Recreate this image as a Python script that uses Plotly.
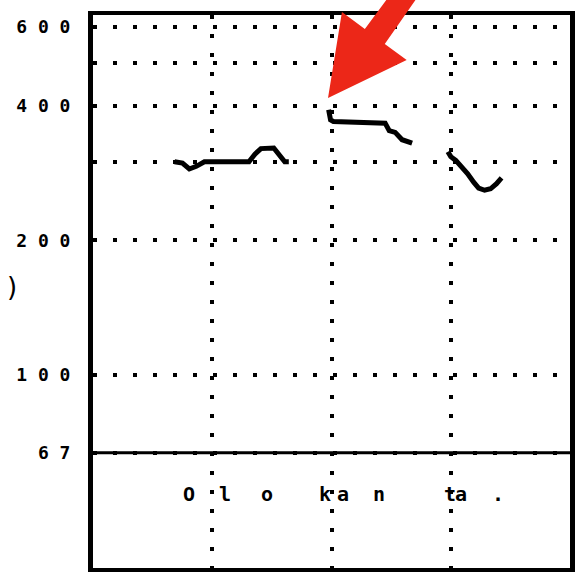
import plotly.graph_objects as go

# ---- data (time in ms, F0 in Hz) ----
seg1_t = [342, 375, 404, 433, 467, 560, 654, 679, 704, 758, 779, 804, 821]
seg1_f = [300, 298, 289, 293, 300, 300, 300, 312, 321, 322, 312, 300, 300]
seg2_t = [988, 996, 1008, 1100, 1196, 1225, 1242, 1267, 1296, 1321, 1338]
seg2_f = [392, 372, 369, 368, 368, 366, 352, 349, 336, 332, 330]
seg3_t = [1488, 1500, 1521, 1546, 1571, 1596, 1617, 1642, 1667, 1692, 1713]
seg3_f = [316, 308, 302, 293, 282, 270, 262, 259, 261, 268, 276]

y_tickvals = [67, 100, 200, 300, 400, 500, 600]
y_ticktext = ["6 7", "1 0 0", "2 0 0", "", "4 0 0", "", "6 0 0"]
x_gridvals = [500, 1000, 1500]

label_chars = ["O", "l", "o", "k", "a", "n", "t", "a", "."]
label_t = [404, 554, 729, 971, 1050, 1200, 1496, 1542, 1696]

baseline_f = 67
x_range = [0, 2000]
y_range = [1.5682, 2.8054]

W, H = 580, 573
ML, MR, MT, MB = 93, 8, 15, 5
PW, PH = W - ML - MR, H - MT - MB


def px2paper(px, py):
    return ((px - ML) / PW, (H - MB - py) / PH)


fig = go.Figure()
for t, f in [(seg1_t, seg1_f), (seg2_t, seg2_f), (seg3_t, seg3_f)]:
    fig.add_trace(go.Scatter(x=t, y=f, mode="lines",
                             line=dict(color="black", width=5),
                             hoverinfo="skip", showlegend=False))

fig.add_trace(go.Scatter(x=x_range, y=[baseline_f, baseline_f], mode="lines",
                         line=dict(color="black", width=3),
                         hoverinfo="skip", showlegend=False))

annotations = []
for ch, t in zip(label_chars, label_t):
    annotations.append(dict(x=t, y=px2paper(0, 494)[1], xref="x", yref="paper",
                            xanchor="center", yanchor="middle",
                            text=ch, showarrow=False,
                            font=dict(family="DejaVu Sans Mono", size=20,
                                      color="black", weight="bold")))
ax_, ay_ = px2paper(12, 287)
annotations.append(dict(x=ax_, y=ay_, xref="paper", yref="paper", text=")",
                        xanchor="center", yanchor="middle",
                        showarrow=False,
                        font=dict(family="DejaVu Sans", size=26, color="black")))

# red arrow
pts = [(329, 98), (343, 12), (366, 29), (392, -6), (421, -6), (386, 44), (408, 60)]
pp = [px2paper(*p) for p in pts]
path = "M " + " L ".join(f"{x:.4f},{y:.4f}" for x, y in pp) + " Z"

fig.update_layout(
    width=W, height=H,
    margin=dict(l=ML, r=MR, t=MT, b=MB),
    paper_bgcolor="white", plot_bgcolor="white",
    annotations=annotations,
    shapes=[dict(type="path", path=path, xref="paper", yref="paper",
                 fillcolor="#EC2718", line=dict(width=0), layer="above")],
    xaxis=dict(range=x_range, tickvals=x_gridvals, showticklabels=False,
               showgrid=True, gridcolor="black", gridwidth=4,
               griddash="4px,15px", zeroline=False,
               showline=True, linecolor="black", linewidth=4, mirror=True,
               ticks=""),
    yaxis=dict(type="log", range=y_range, tickvals=y_tickvals,
               ticktext=y_ticktext, showgrid=True, gridcolor="black",
               gridwidth=4, griddash="4px,16px", zeroline=False,
               showline=True, linecolor="black", linewidth=5, mirror=True,
               ticks="", ticklabelstandoff=14,
               tickfont=dict(family="DejaVu Sans Mono", size=18,
                             color="black", weight="bold")),
)

fig.write_html("out.html", config={"displayModeBar": False},
               post_script="document.body.style.margin='0';document.body.style.overflow='hidden';")
